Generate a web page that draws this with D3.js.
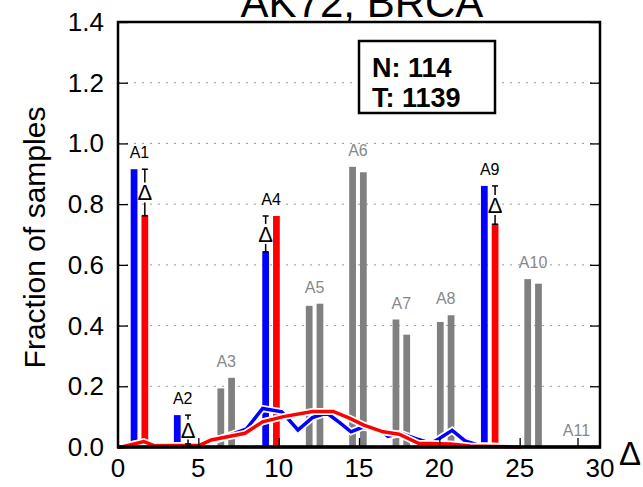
<!DOCTYPE html>
<html><head><meta charset="utf-8">
<script src="https://cdn.jsdelivr.net/npm/d3@7"></script>
<style>body{margin:0;background:#fff}svg{display:block;font-family:"Liberation Sans",Arial,sans-serif}</style>
</head><body><svg id="c" width="643" height="487"></svg>
<script>
const labels = ["A1","A2","A3","A4","A5","A6","A7","A8","A9","A10","A11"];
const pairPos = [1.0, 3.69, 6.4, 9.19, 11.9, 14.6, 17.3, 20.06, 22.8, 25.5, 28.2];
const firstVals = [0.915, 0.105, 0.193, 0.643, 0.465, 0.923, 0.42, 0.412, 0.860, 0.553, 0];
const secondVals = [0.762, 0.01, 0.228, 0.761, 0.472, 0.905, 0.37, 0.434, 0.734, 0.538, 0];
const highlighted = [true, true, false, true, false, false, false, false, true, false, false];
const blueLine = [[0,0],[1.6,0.015],[2.4,0.003],[4.4,0.006],[5.4,0.01],[6.5,0.03],[8.0,0.06],[9.0,0.127],[10.2,0.116],[11.2,0.056],[12.1,0.097],[13.0,0.112],[13.8,0.08],[14.5,0.05],[15.2,0.065],[16.3,0.058],[16.8,0.035],[17.6,0.045],[18.5,0.028],[19.5,0.012],[20.0,0.028],[20.8,0.055],[21.6,0.02],[22.5,0.005],[25.0,0.0]];
const redLine = [[0,0],[0.3,0.001],[1.6,0.018],[2.3,0.004],[5.1,0.006],[5.8,0.023],[7.9,0.045],[9.0,0.083],[10.3,0.1],[12.1,0.117],[13.4,0.117],[14.4,0.095],[15.3,0.072],[16.5,0.05],[17.5,0.042],[18.7,0.012],[20.7,0.01],[21.9,0.003],[25.1,0.0]];
const xTicks = [0,5,10,15,20,25,30];
const xInnerTicks = [5,10,15,20,25,28.6];
const yTicks = [0,0.2,0.4,0.6,0.8,1.0,1.2,1.4];
const title = "AK72, BRCA";
const legendLines = ["N: 114","T: 1139"];

const svg = d3.select("#c");
const L=118, R=600, T=22, B=447;
const x = d3.scaleLinear().domain([0,30]).range([L,R]);
const y = d3.scaleLinear().domain([0,1.4]).range([B,T]);
const gap = 0.67, bw = x(0.42)-x(0);

// gridlines
svg.append("g").selectAll("line").data(yTicks.filter(d=>d>0&&d<1.4)).join("line")
  .attr("x1",L).attr("x2",R).attr("y1",d=>y(d)).attr("y2",d=>y(d))
  .attr("stroke","#999").attr("stroke-width",1).attr("stroke-dasharray","2,6");

// bars
const bars = svg.append("g");
labels.forEach((lab,i)=>{
  const c1 = highlighted[i] ? "#0000ff" : "#808080";
  const c2 = highlighted[i] ? "#ff0000" : "#808080";
  const x1 = pairPos[i], x2 = pairPos[i]+gap;
  [[x1,firstVals[i],c1],[x2,secondVals[i],c2]].forEach(([px,v,c])=>{
    if(v>0) bars.append("rect").attr("x",x(px)-bw/2).attr("width",bw)
      .attr("y",y(v)).attr("height",y(0)-y(v)).attr("fill",c);
  });
});

// lines with white halo
const line = d3.line().x(d=>x(d[0])).y(d=>y(d[1]));
[[blueLine,"#0000ff"],[redLine,"#ff0000"]].forEach(([data,col])=>{
  svg.append("path").attr("d",line(data)).attr("fill","none").attr("stroke","#fff").attr("stroke-width",7).attr("stroke-linejoin","miter");
  svg.append("path").attr("d",line(data)).attr("fill","none").attr("stroke",col).attr("stroke-width",3.5).attr("stroke-linejoin","miter");
});

// labels
labels.forEach((lab,i)=>{
  const top = Math.max(firstVals[i],secondVals[i]);
  svg.append("text").attr("x",x(pairPos[i]+gap/2)).attr("y",y(top)-11)
    .attr("text-anchor","middle").attr("font-size",16)
    .attr("fill",highlighted[i]?"#000":"#888").text(lab);
});

// delta markers
labels.forEach((lab,i)=>{
  if(!highlighted[i]) return;
  const lowFirst = firstVals[i] < secondVals[i];
  const px = x(lowFirst ? pairPos[i] : pairPos[i]+gap);
  const yt = y(Math.max(firstVals[i],secondVals[i]));
  const yb = y(Math.min(firstVals[i],secondVals[i]));
  const mid = (yt+yb)/2;
  const g = svg.append("g").attr("stroke","#000").attr("stroke-width",1.5);
  g.append("line").attr("x1",px-3).attr("x2",px+3).attr("y1",yt).attr("y2",yt);
  g.append("line").attr("x1",px-3).attr("x2",px+3).attr("y1",yb).attr("y2",yb);
  if(mid-10>yt) g.append("line").attr("x1",px).attr("x2",px).attr("y1",yt).attr("y2",mid-10);
  if(mid+10<yb) g.append("line").attr("x1",px).attr("x2",px).attr("y1",mid+10).attr("y2",yb);
  svg.append("text").attr("x",px).attr("y",mid+8).attr("text-anchor","middle")
    .attr("font-size",22).attr("fill","#000").text("Δ");
});

// frame
svg.append("rect").attr("x",L).attr("y",T).attr("width",R-L).attr("height",B-T)
  .attr("fill","none").attr("stroke","#000").attr("stroke-width",2.5);
svg.append("line").attr("x1",L-1).attr("x2",R+1).attr("y1",B).attr("y2",B).attr("stroke","#000").attr("stroke-width",3.5);

// inner ticks
svg.append("g").attr("transform",`translate(0,${B})`)
  .call(d3.axisBottom(x).tickValues(xInnerTicks).tickSize(-9).tickFormat(""))
  .call(g=>{g.select(".domain").remove(); g.selectAll("line").attr("stroke-width",1.3);});
svg.append("g").attr("transform",`translate(${L},0)`)
  .call(d3.axisLeft(y).tickValues(yTicks).tickSize(-10).tickFormat(""))
  .call(g=>{g.select(".domain").remove(); g.selectAll("line").attr("stroke-width",1.3);});
svg.append("g").attr("transform",`translate(${R},0)`)
  .call(d3.axisRight(y).tickValues(yTicks).tickSize(-10).tickFormat(""))
  .call(g=>{g.select(".domain").remove(); g.selectAll("line").attr("stroke-width",1.3);});

// tick labels
svg.append("g").selectAll("text").data(xTicks).join("text")
  .attr("x",d=>x(d)).attr("y",B+30).attr("text-anchor","middle").attr("font-size",26).text(d=>d);
svg.append("g").selectAll("text").data(yTicks).join("text")
  .attr("x",L-14).attr("y",d=>y(d)+9).attr("text-anchor","end").attr("font-size",26).text(d=>d.toFixed(1));

// axis titles
svg.append("text").attr("x",630).attr("y",465).attr("text-anchor","middle").attr("font-size",33).text("Δ");
svg.append("text").attr("transform",`translate(45,${(T+B)/2+3}) rotate(-90)`).attr("text-anchor","middle").attr("font-size",30).text("Fraction of samples");
svg.append("text").attr("x",(L+R)/2+3).attr("y",17).attr("text-anchor","middle").attr("font-size",42).text(title);

// legend
svg.append("rect").attr("x",359).attr("y",41).attr("width",136).attr("height",72).attr("fill","#fff").attr("stroke","#000").attr("stroke-width",2.5);
legendLines.forEach((t,i)=>{
  svg.append("text").attr("x",372).attr("y",77+i*30).attr("font-size",27).attr("font-weight","bold").text(t);
});
</script></body></html>
